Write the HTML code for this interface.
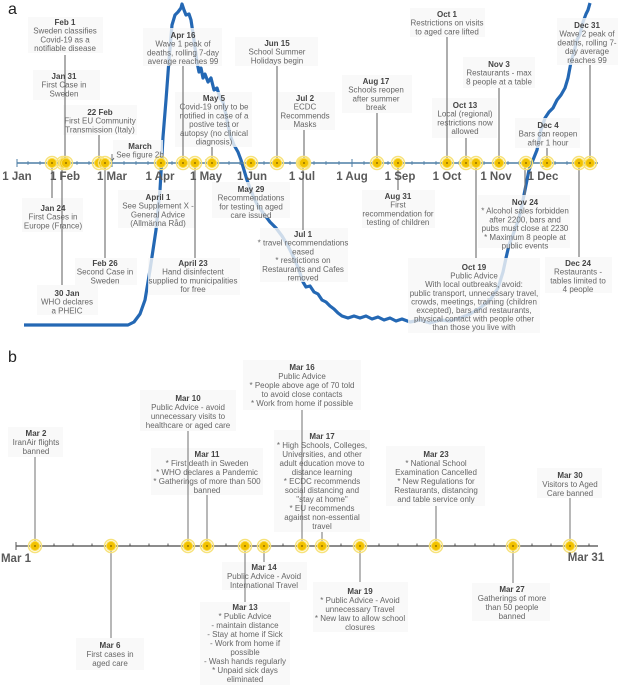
<!DOCTYPE html>
<html><head><meta charset="utf-8"><style>
html,body{margin:0;padding:0;background:#fff}
svg{display:block}
text{font-family:"Liberation Sans",sans-serif;font-size:8px;fill:#666;text-anchor:middle}
text .t{font-weight:bold;fill:#444}
.m{font-size:11.5px;font-weight:bold;fill:#5a5a5a}
.bx{fill:#f8f8f8;fill-opacity:0.8}
.ln{stroke:#777;stroke-width:1.2}
</style></head><body>
<svg width="618" height="685" viewBox="0 0 618 685" xmlns="http://www.w3.org/2000/svg">
<defs>
<g id="mk"><circle r="6.5" fill="none" stroke="#f7e27a" stroke-width="1.5"/><circle r="4.6" fill="#f2c200" stroke="#f9dc55" stroke-width="1"/><circle r="0.9" fill="#7a5a00"/></g>
</defs>
<text x="8" y="14" style="font-size:16px;fill:#222;text-anchor:start">a</text>
<text x="8" y="362" style="font-size:16px;fill:#222;text-anchor:start">b</text>

<polyline fill="none" stroke="#2468b4" stroke-width="3.2" stroke-linejoin="round" points="24,325 128,325 134,322 140,314 145,300 150,270 156,230 160,190 163,137 166,100 169,60 172,25 175,15 178,12 181,8 182,4 184,10 186,15 189,14 191,20 194,40 197,62 199,72 201,68 203,78 205,74 208,82 211,78 214,90 217,88 220,98 223,102 226,115 230,135 234,145 238,152 241,160 244,170 247,180 250,188 254,198 258,206 264,214 270,222 276,228 282,236 288,246 294,258 299,270 303,282 306,287 310,286 314,292 318,294 322,300 326,302 330,306 334,309 338,313 342,316 348,318 354,316 360,318 366,316 372,319 378,317 384,320 390,318 396,321 402,319 410,322 420,320 430,323 440,320 450,321 460,318 470,314 480,308 490,300 498,288 503,272 506,258 509,245 514,232 519,218 522,205 526,185 529,170 533,160 537,150 541,130 545,118 549,112 553,108 557,100 561,95 565,88 568,78 571,62 574,52 577,40 580,34 583,22 586,14 588,10 590,3"/>

<g class="bx">
<rect x="28" y="17" width="75" height="36"/>
<rect x="33" y="70" width="67" height="30"/>
<rect x="63" y="105" width="74" height="30"/>
<rect x="113" y="140" width="50" height="20"/>
<rect x="143" y="28" width="79" height="38"/>
<rect x="175" y="92" width="77" height="55"/>
<rect x="235" y="37" width="83" height="29"/>
<rect x="278" y="92" width="57" height="38"/>
<rect x="342" y="75" width="70" height="38"/>
<rect x="410" y="8" width="75" height="29"/>
<rect x="463" y="57" width="72" height="31"/>
<rect x="432" y="98" width="65" height="40"/>
<rect x="515" y="118" width="65" height="30"/>
<rect x="557" y="18" width="61" height="47"/>
<rect x="22" y="198" width="61" height="34"/>
<rect x="37" y="285" width="61" height="30"/>
<rect x="75" y="258" width="62" height="27"/>
<rect x="118" y="190" width="77" height="38"/>
<rect x="148" y="258" width="92" height="37"/>
<rect x="212" y="182" width="78" height="36"/>
<rect x="260" y="228" width="88" height="54"/>
<rect x="362" y="190" width="73" height="38"/>
<rect x="478" y="195" width="92" height="53"/>
<rect x="408" y="258" width="132" height="75"/>
<rect x="545" y="257" width="67" height="36"/>
</g>

<g class="ln">
<line x1="65" y1="55" x2="65" y2="163"/>
<line x1="99" y1="135" x2="99" y2="163"/>
<line x1="183" y1="66" x2="183" y2="163"/>
<line x1="212" y1="147" x2="212" y2="163"/>
<line x1="277" y1="66" x2="277" y2="163"/>
<line x1="304" y1="130" x2="304" y2="163"/>
<line x1="377" y1="113" x2="377" y2="163"/>
<line x1="447" y1="37" x2="447" y2="163"/>
<line x1="466" y1="138" x2="466" y2="163"/>
<line x1="499" y1="88" x2="499" y2="163"/>
<line x1="547" y1="148" x2="547" y2="163"/>
<line x1="590" y1="65" x2="590" y2="163"/>
<line x1="52" y1="163" x2="52" y2="198"/>
<line x1="62" y1="163" x2="62" y2="285"/>
<line x1="105" y1="163" x2="105" y2="258"/>
<line x1="195" y1="163" x2="195" y2="258"/>
<line x1="303" y1="163" x2="303" y2="230"/>
<line x1="398" y1="163" x2="398" y2="190"/>
<line x1="476" y1="163" x2="476" y2="258"/>
<line x1="525" y1="163" x2="525" y2="195"/>
<line x1="579" y1="163" x2="579" y2="257"/>
</g>
<path d="M112 154 L112 161 M110 158 L112 161 L114 158" stroke="#555" stroke-width="0.8" fill="none"/>

<line x1="17" y1="163" x2="598" y2="163" stroke="#4d7ea6" stroke-width="1.6"/>
<g stroke="#4d7ea6" stroke-width="1">
<line x1="17" y1="159" x2="17" y2="167"/><line x1="65" y1="159" x2="65" y2="167"/><line x1="112" y1="159" x2="112" y2="167"/><line x1="160" y1="159" x2="160" y2="167"/><line x1="206" y1="159" x2="206" y2="167"/><line x1="252" y1="159" x2="252" y2="167"/><line x1="302" y1="159" x2="302" y2="167"/><line x1="352" y1="159" x2="352" y2="167"/><line x1="400" y1="159" x2="400" y2="167"/><line x1="447" y1="159" x2="447" y2="167"/><line x1="496" y1="159" x2="496" y2="167"/><line x1="543" y1="159" x2="543" y2="167"/>
</g>
<g stroke="#4d7ea6" stroke-width="0.8">
<line x1="28" y1="161" x2="28" y2="165"/><line x1="40" y1="161" x2="40" y2="165"/><line x1="77" y1="161" x2="77" y2="165"/><line x1="89" y1="161" x2="89" y2="165"/><line x1="124" y1="161" x2="124" y2="165"/><line x1="136" y1="161" x2="136" y2="165"/><line x1="148" y1="161" x2="148" y2="165"/><line x1="172" y1="161" x2="172" y2="165"/><line x1="218" y1="161" x2="218" y2="165"/><line x1="229" y1="161" x2="229" y2="165"/><line x1="240" y1="161" x2="240" y2="165"/><line x1="264" y1="161" x2="264" y2="165"/><line x1="290" y1="161" x2="290" y2="165"/><line x1="314" y1="161" x2="314" y2="165"/><line x1="326" y1="161" x2="326" y2="165"/><line x1="339" y1="161" x2="339" y2="165"/><line x1="364" y1="161" x2="364" y2="165"/><line x1="388" y1="161" x2="388" y2="165"/><line x1="412" y1="161" x2="412" y2="165"/><line x1="424" y1="161" x2="424" y2="165"/><line x1="436" y1="161" x2="436" y2="165"/><line x1="459" y1="161" x2="459" y2="165"/><line x1="484" y1="161" x2="484" y2="165"/><line x1="508" y1="161" x2="508" y2="165"/><line x1="519" y1="161" x2="519" y2="165"/><line x1="531" y1="161" x2="531" y2="165"/><line x1="555" y1="161" x2="555" y2="165"/><line x1="567" y1="161" x2="567" y2="165"/>
</g>
<g>
<use href="#mk" x="52" y="163"/><use href="#mk" x="63" y="163"/><use href="#mk" x="66" y="163"/><use href="#mk" x="99" y="163"/><use href="#mk" x="105" y="163"/><use href="#mk" x="161" y="163"/><use href="#mk" x="183" y="163"/><use href="#mk" x="195" y="163"/><use href="#mk" x="212" y="163"/><use href="#mk" x="251" y="163"/><use href="#mk" x="277" y="163"/><use href="#mk" x="303" y="163"/><use href="#mk" x="304" y="163"/><use href="#mk" x="377" y="163"/><use href="#mk" x="398" y="163"/><use href="#mk" x="447" y="163"/><use href="#mk" x="466" y="163"/><use href="#mk" x="476" y="163"/><use href="#mk" x="499" y="163"/><use href="#mk" x="526" y="163"/><use href="#mk" x="547" y="163"/><use href="#mk" x="579" y="163"/><use href="#mk" x="590" y="163"/>
</g>
<g>
<text class="m" x="17" y="180">1 Jan</text><text class="m" x="65" y="180">1 Feb</text><text class="m" x="112" y="180">1 Mar</text><text class="m" x="160" y="180">1 Apr</text><text class="m" x="206" y="180">1 May</text><text class="m" x="252" y="180">1 Jun</text><text class="m" x="302" y="180">1 Jul</text><text class="m" x="352" y="180">1 Aug</text><text class="m" x="400" y="180">1 Sep</text><text class="m" x="447" y="180">1 Oct</text><text class="m" x="496" y="180">1 Nov</text><text class="m" x="543" y="180">1 Dec</text>
</g>

<text x="65" y="25"><tspan class="t">Feb 1</tspan><tspan x="65" dy="8.7">Sweden classifies</tspan><tspan x="65" dy="8.7">Covid-19 as a</tspan><tspan x="65" dy="8.7">notifiable disease</tspan></text>
<text x="64" y="79"><tspan class="t">Jan 31</tspan><tspan x="64" dy="8.7">First Case in</tspan><tspan x="64" dy="8.7">Sweden</tspan></text>
<text x="100" y="115"><tspan class="t">22 Feb</tspan><tspan x="100" dy="8.7">First EU Community</tspan><tspan x="100" dy="8.7">Transmission (Italy)</tspan></text>
<text x="140" y="149"><tspan class="t">March</tspan><tspan x="140" dy="8.7">See figure 2b</tspan></text>
<text x="183" y="38"><tspan class="t">Apr 16</tspan><tspan x="183" dy="8.7">Wave 1 peak of</tspan><tspan x="183" dy="8.7">deaths, rolling 7-day</tspan><tspan x="183" dy="8.7">average reaches 99</tspan></text>
<text x="214" y="101"><tspan class="t">May 5</tspan><tspan x="214" dy="8.7">Covid-19 only to be</tspan><tspan x="214" dy="8.7">notified in case of a</tspan><tspan x="214" dy="8.7">postive test or</tspan><tspan x="214" dy="8.7">autopsy (no clinical</tspan><tspan x="214" dy="8.7">diagnosis)</tspan></text>
<text x="277" y="46"><tspan class="t">Jun 15</tspan><tspan x="277" dy="8.7">School Summer</tspan><tspan x="277" dy="8.7">Holidays begin</tspan></text>
<text x="305" y="101"><tspan class="t">Jul 2</tspan><tspan x="305" dy="8.7">ECDC</tspan><tspan x="305" dy="8.7">Recommends</tspan><tspan x="305" dy="8.7">Masks</tspan></text>
<text x="376" y="84"><tspan class="t">Aug 17</tspan><tspan x="376" dy="8.7">Schools reopen</tspan><tspan x="376" dy="8.7">after summer</tspan><tspan x="376" dy="8.7">break</tspan></text>
<text x="447" y="17"><tspan class="t">Oct 1</tspan><tspan x="447" dy="8.7">Restrictions on visits</tspan><tspan x="447" dy="8.7">to aged care lifted</tspan></text>
<text x="499" y="67"><tspan class="t">Nov 3</tspan><tspan x="499" dy="8.7">Restaurants - max</tspan><tspan x="499" dy="8.7">8 people at a table</tspan></text>
<text x="465" y="108"><tspan class="t">Oct 13</tspan><tspan x="465" dy="8.7">Local (regional)</tspan><tspan x="465" dy="8.7">restrictions now</tspan><tspan x="465" dy="8.7">allowed</tspan></text>
<text x="548" y="128"><tspan class="t">Dec 4</tspan><tspan x="548" dy="8.7">Bars can reopen</tspan><tspan x="548" dy="8.7">after 1 hour</tspan></text>
<text x="587" y="28"><tspan class="t">Dec 31</tspan><tspan x="587" dy="8.7">Wave 2 peak of</tspan><tspan x="587" dy="8.7">deaths, rolling 7-</tspan><tspan x="587" dy="8.7">day average</tspan><tspan x="587" dy="8.7">reaches 99</tspan></text>

<text x="53" y="211"><tspan class="t">Jan 24</tspan><tspan x="53" dy="8.7">First Cases in</tspan><tspan x="53" dy="8.7">Europe (France)</tspan></text>
<text x="67" y="296"><tspan class="t">30 Jan</tspan><tspan x="67" dy="8.7">WHO declares</tspan><tspan x="67" dy="8.7">a PHEIC</tspan></text>
<text x="105" y="266"><tspan class="t">Feb 26</tspan><tspan x="105" dy="8.7">Second Case in</tspan><tspan x="105" dy="8.7">Sweden</tspan></text>
<text x="158" y="200"><tspan class="t">April 1</tspan><tspan x="158" dy="8.7">See Supplement X -</tspan><tspan x="158" dy="8.7">General Advice</tspan><tspan x="158" dy="8.7">(Allmänna Råd)</tspan></text>
<text x="193" y="266"><tspan class="t">April 23</tspan><tspan x="193" dy="8.7">Hand disinfectent</tspan><tspan x="193" dy="8.7">supplied to municipalities</tspan><tspan x="193" dy="8.7">for free</tspan></text>
<text x="251" y="192"><tspan class="t">May 29</tspan><tspan x="251" dy="8.7">Recommendations</tspan><tspan x="251" dy="8.7">for testing in aged</tspan><tspan x="251" dy="8.7">care issued</tspan></text>
<text x="303" y="237"><tspan class="t">Jul 1</tspan><tspan x="303" dy="8.7">* travel recommendations</tspan><tspan x="303" dy="8.7">eased</tspan><tspan x="303" dy="8.7">* restrictions on</tspan><tspan x="303" dy="8.7">Restaurants and Cafes</tspan><tspan x="303" dy="8.7">removed</tspan></text>
<text x="398" y="199"><tspan class="t">Aug 31</tspan><tspan x="398" dy="8.7">First</tspan><tspan x="398" dy="8.7">recommendation for</tspan><tspan x="398" dy="8.7">testing of children</tspan></text>
<text x="525" y="205"><tspan class="t">Nov 24</tspan><tspan x="525" dy="8.7">* Alcohol sales forbidden</tspan><tspan x="525" dy="8.7">after 2200, bars and</tspan><tspan x="525" dy="8.7">pubs must close at 2230</tspan><tspan x="525" dy="8.7">* Maximum 8 people at</tspan><tspan x="525" dy="8.7">public events</tspan></text>
<text x="474" y="270"><tspan class="t">Oct 19</tspan><tspan x="474" dy="8.6">Public Advice</tspan><tspan x="474" dy="8.6">With local outbreaks, avoid:</tspan><tspan x="474" dy="8.6">public transport, unnecessary travel,</tspan><tspan x="474" dy="8.6">crowds, meetings, training (children</tspan><tspan x="474" dy="8.6">excepted), bars and restaurants,</tspan><tspan x="474" dy="8.6">physical contact with people other</tspan><tspan x="474" dy="8.6">than those you live with</tspan></text>
<text x="578" y="266"><tspan class="t">Dec 24</tspan><tspan x="578" dy="8.7">Restaurants -</tspan><tspan x="578" dy="8.7">tables limited to</tspan><tspan x="578" dy="8.7">4 people</tspan></text>

<g class="bx">
<rect x="8" y="427" width="55" height="30"/>
<rect x="140" y="390" width="96" height="41"/>
<rect x="151" y="448" width="112" height="47"/>
<rect x="243" y="360" width="118" height="50"/>
<rect x="274" y="430" width="96" height="102"/>
<rect x="386" y="446" width="99" height="60"/>
<rect x="537" y="468" width="65" height="30"/>
<rect x="222" y="562" width="85" height="28"/>
<rect x="200" y="602" width="90" height="83"/>
<rect x="313" y="582" width="95" height="50"/>
<rect x="472" y="583" width="78" height="38"/>
<rect x="76" y="638" width="68" height="32"/>
</g>
<g class="ln" style="stroke:#888">
<line x1="35" y1="457" x2="35" y2="546"/>
<line x1="188" y1="431" x2="188" y2="546"/>
<line x1="207" y1="495" x2="207" y2="546"/>
<line x1="302" y1="410" x2="302" y2="546"/>
<line x1="322" y1="532" x2="322" y2="546"/>
<line x1="436" y1="506" x2="436" y2="546"/>
<line x1="570" y1="498" x2="570" y2="546"/>
<line x1="111" y1="546" x2="111" y2="638"/>
<line x1="245" y1="546" x2="245" y2="602"/>
<line x1="264" y1="546" x2="264" y2="562"/>
<line x1="360" y1="546" x2="360" y2="582"/>
<line x1="513" y1="546" x2="513" y2="583"/>
</g>
<line x1="16" y1="546" x2="598" y2="546" stroke="#666" stroke-width="1.6"/>
<line x1="16" y1="542" x2="16" y2="550" stroke="#555" stroke-width="1"/>
<g stroke="#444" stroke-width="0.9">
<line x1="54" y1="543.5" x2="54" y2="546"/><line x1="73" y1="543.5" x2="73" y2="546"/><line x1="92" y1="543.5" x2="92" y2="546"/><line x1="130" y1="543.5" x2="130" y2="546"/><line x1="149" y1="543.5" x2="149" y2="546"/><line x1="168" y1="543.5" x2="168" y2="546"/><line x1="226" y1="543.5" x2="226" y2="546"/><line x1="283" y1="543.5" x2="283" y2="546"/><line x1="341" y1="543.5" x2="341" y2="546"/><line x1="379" y1="543.5" x2="379" y2="546"/><line x1="398" y1="543.5" x2="398" y2="546"/><line x1="417" y1="543.5" x2="417" y2="546"/><line x1="455" y1="543.5" x2="455" y2="546"/><line x1="475" y1="543.5" x2="475" y2="546"/><line x1="494" y1="543.5" x2="494" y2="546"/><line x1="532" y1="543.5" x2="532" y2="546"/><line x1="551" y1="543.5" x2="551" y2="546"/><line x1="589" y1="543.5" x2="589" y2="546"/>
</g>
<g>
<use href="#mk" x="35" y="546"/><use href="#mk" x="111" y="546"/><use href="#mk" x="188" y="546"/><use href="#mk" x="207" y="546"/><use href="#mk" x="245" y="546"/><use href="#mk" x="264" y="546"/><use href="#mk" x="302" y="546"/><use href="#mk" x="322" y="546"/><use href="#mk" x="360" y="546"/><use href="#mk" x="436" y="546"/><use href="#mk" x="513" y="546"/><use href="#mk" x="570" y="546"/>
</g>
<text class="m" x="16" y="562">Mar 1</text>
<text class="m" x="586" y="561">Mar 31</text>

<text x="36" y="436"><tspan class="t">Mar 2</tspan><tspan x="36" dy="9">IranAir flights</tspan><tspan x="36" dy="9">banned</tspan></text>
<text x="188" y="401"><tspan class="t">Mar 10</tspan><tspan x="188" dy="9">Public Advice - avoid</tspan><tspan x="188" dy="9">unnecessary visits to</tspan><tspan x="188" dy="9">healthcare or aged care</tspan></text>
<text x="207" y="457"><tspan class="t">Mar 11</tspan><tspan x="207" dy="9">* First death in Sweden</tspan><tspan x="207" dy="9">* WHO declares a Pandemic</tspan><tspan x="207" dy="9">* Gatherings of more than 500</tspan><tspan x="207" dy="9">banned</tspan></text>
<text x="302" y="370"><tspan class="t">Mar 16</tspan><tspan x="302" dy="9">Public Advice</tspan><tspan x="302" dy="9">* People above age of 70 told</tspan><tspan x="302" dy="9">to avoid close contacts</tspan><tspan x="302" dy="9">* Work from home if possible</tspan></text>
<text x="322" y="439"><tspan class="t">Mar 17</tspan><tspan x="322" dy="9">* High Schools, Colleges,</tspan><tspan x="322" dy="9">Universities, and other</tspan><tspan x="322" dy="9">adult education move to</tspan><tspan x="322" dy="9">distance learning</tspan><tspan x="322" dy="9">* ECDC recommends</tspan><tspan x="322" dy="9">social distancing and</tspan><tspan x="322" dy="9">"stay at home"</tspan><tspan x="322" dy="9">* EU recommends</tspan><tspan x="322" dy="9">against non-essential</tspan><tspan x="322" dy="9">travel</tspan></text>
<text x="436" y="457"><tspan class="t">Mar 23</tspan><tspan x="436" dy="9">* National School</tspan><tspan x="436" dy="9">Examination Cancelled</tspan><tspan x="436" dy="9">* New Regulations for</tspan><tspan x="436" dy="9">Restaurants, distancing</tspan><tspan x="436" dy="9">and table service only</tspan></text>
<text x="570" y="478"><tspan class="t">Mar 30</tspan><tspan x="570" dy="9">Visitors to Aged</tspan><tspan x="570" dy="9">Care banned</tspan></text>
<text x="264" y="570"><tspan class="t">Mar 14</tspan><tspan x="264" dy="9">Public Advice - Avoid</tspan><tspan x="264" dy="9">International Travel</tspan></text>
<text x="245" y="610"><tspan class="t">Mar 13</tspan><tspan x="245" dy="9">* Public Advice</tspan><tspan x="245" dy="9">- maintain distance</tspan><tspan x="245" dy="9">- Stay at home if Sick</tspan><tspan x="245" dy="9">- Work from home if</tspan><tspan x="245" dy="9">possible</tspan><tspan x="245" dy="9">- Wash hands regularly</tspan><tspan x="245" dy="9">* Unpaid sick days</tspan><tspan x="245" dy="9">eliminated</tspan></text>
<text x="360" y="594"><tspan class="t">Mar 19</tspan><tspan x="360" dy="9">* Public Advice - Avoid</tspan><tspan x="360" dy="9">unnecessary Travel</tspan><tspan x="360" dy="9">* New law to allow school</tspan><tspan x="360" dy="9">closures</tspan></text>
<text x="512" y="592"><tspan class="t">Mar 27</tspan><tspan x="512" dy="9">Gatherings of more</tspan><tspan x="512" dy="9">than 50 people</tspan><tspan x="512" dy="9">banned</tspan></text>
<text x="110" y="648"><tspan class="t">Mar 6</tspan><tspan x="110" dy="9">First cases in</tspan><tspan x="110" dy="9">aged care</tspan></text>
</svg>
</body></html>
